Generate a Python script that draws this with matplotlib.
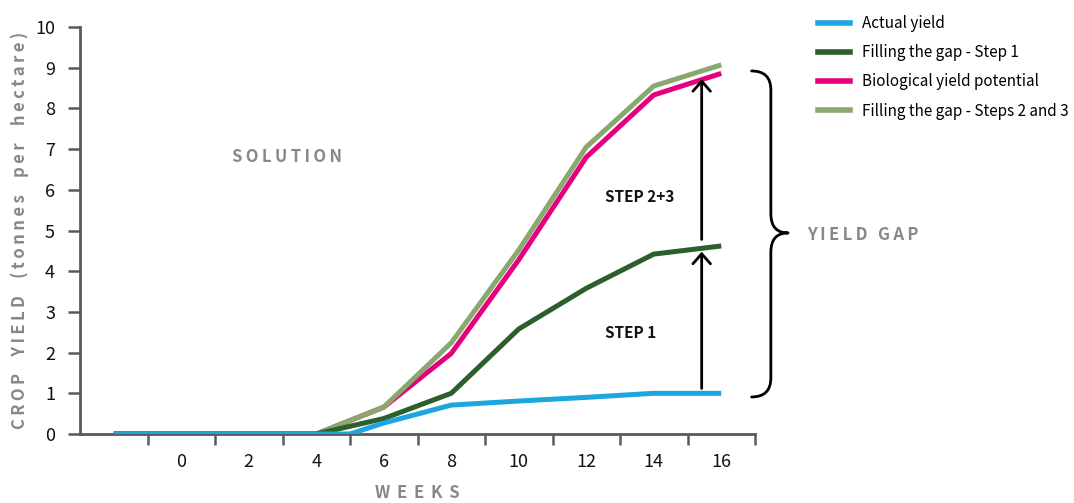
import matplotlib
matplotlib.use("Agg")
import matplotlib.pyplot as plt
from matplotlib.path import Path
from matplotlib.patches import PathPatch
from matplotlib.lines import Line2D

# ---- data ----
weeks = [-2, 0, 2, 4, 6, 8, 10, 12, 14, 16]
week_labels = ["0", "2", "4", "6", "8", "10", "12", "14", "16"]
label_weeks = [0, 2, 4, 6, 8, 10, 12, 14, 16]

actual_weeks = [-2, 0, 2, 4, 5, 6, 8, 10, 12, 14, 16]
actual_yield = [0, 0, 0, 0, 0, 0.27, 0.71, 0.81, 0.9, 1.0, 1.0]
step1 = [0, 0, 0, 0, 0.38, 1.0, 2.58, 3.58, 4.42, 4.62]
bio_potential = [0, 0, 0, 0, 0.66, 1.98, 4.28, 6.8, 8.33, 8.86]
steps23 = [0, 0, 0, 0, 0.66, 2.24, 4.52, 7.05, 8.55, 9.07]

series_names = ["Actual yield", "Filling the gap - Step 1",
                "Biological yield potential", "Filling the gap - Steps 2 and 3"]
colors = ["#1ba6df", "#2b5f2b", "#e6007e", "#88a870"]

GRAY = "#88888b"
AXC = "#5a5a5a"
FONT = ["Noto Sans CJK SC", "DejaVu Sans"]
TS = "\u2009"

def spaced(s, n=1, word_extra=0):
    words = s.split(" ")
    sep = TS * (1 + word_extra) + " " + TS * (1 + word_extra)
    return sep.join((TS * n).join(w) for w in words)

fig = plt.figure(figsize=(10.74, 5.03), dpi=100)
ax = fig.add_axes([80/1074, 1-434/503, (755-80)/1074, (434-27)/503])

lw = 3.6
ax.plot(weeks, bio_potential, color=colors[2], lw=lw, zorder=2, solid_capstyle="butt")
ax.plot(weeks, steps23, color=colors[3], lw=lw, zorder=3, solid_capstyle="butt")
ax.plot(weeks, step1, color=colors[1], lw=lw, zorder=4, solid_capstyle="butt")
ax.plot(actual_weeks, actual_yield, color=colors[0], lw=lw, zorder=5, solid_capstyle="butt")

ax.set_xlim(-3, 17)
ax.set_ylim(0, 10)

for s in ["top", "right"]:
    ax.spines[s].set_visible(False)
for s in ["left", "bottom"]:
    ax.spines[s].set_color(AXC)
    ax.spines[s].set_linewidth(2)

ax.set_xticks([w + 1 for w in weeks])
ax.set_xticklabels([])
ax.set_xticks(label_weeks, minor=True)
ax.set_xticklabels(week_labels, minor=True, fontsize=13, family=FONT, color="#111111")
ax.tick_params(axis="x", which="major", length=8, width=1.8, color=AXC, direction="out")
ax.tick_params(axis="x", which="minor", length=0, pad=14)

ax.set_yticks(range(0, 11))
ax.set_yticklabels([str(v) for v in range(0, 11)], fontsize=13, family=FONT, color="#111111")
ax.tick_params(axis="y", length=9, width=1.8, color=AXC, direction="out", pad=9)

# arrows
ARROW_X = 15.42
arrow_spans = [(1.12, 4.48), (4.78, 8.72)]
for y0, y1 in arrow_spans:
    ax.annotate("", xy=(ARROW_X, y1), xytext=(ARROW_X, y0),
                arrowprops=dict(arrowstyle="->,head_length=0.4,head_width=0.35",
                                mutation_scale=18, lw=2, color="black",
                                shrinkA=0, shrinkB=0), zorder=6)

# brace
BR_LO, BR_HI, BR_MID = 0.91, 8.92, 4.94
bx0, bx1, btip = 16.9, 17.47, 17.98
r = 0.47
verts = [(bx0, BR_HI), (bx1, BR_HI), (bx1, BR_HI - r),
         (bx1, BR_MID + r), (bx1, BR_MID), (btip, BR_MID),
         (bx1, BR_MID), (bx1, BR_MID - r),
         (bx1, BR_LO + r), (bx1, BR_LO), (bx0, BR_LO)]
codes = [Path.MOVETO, Path.CURVE3, Path.CURVE3,
         Path.LINETO, Path.CURVE3, Path.CURVE3,
         Path.CURVE3, Path.CURVE3,
         Path.LINETO, Path.CURVE3, Path.CURVE3]
ax.add_patch(PathPatch(Path(verts, codes), fill=False, lw=2, color="black",
                       clip_on=False, capstyle="round", joinstyle="round"))

# annotations
ax.text(3.13, 6.8, spaced("SOLUTION"), family=FONT, fontweight="bold", fontsize=12,
        color=GRAY, ha="center", va="center")
ax.text(12.55, 5.82, "STEP 2+3", family=FONT, fontweight="bold", fontsize=11,
        color="#111111", ha="left", va="center")
ax.text(12.55, 2.48, "STEP 1", family=FONT, fontweight="bold", fontsize=11,
        color="#111111", ha="left", va="center")
fig.text(863/1074, 1-235/503, spaced("YIELD GAP"), family=FONT, fontweight="bold",
         fontsize=12, color=GRAY, ha="center", va="center")
fig.text(20/1074, 1-230/503, spaced("CROP YIELD (tonnes per hectare)", word_extra=1),
         family=FONT, fontweight="bold", fontsize=12, color=GRAY,
         ha="center", va="center", rotation=90)
fig.text(417/1074, 1-493/503, spaced("WEEKS", 2), family=FONT, fontweight="bold",
         fontsize=12, color=GRAY, ha="center", va="center")

# legend
handles = [Line2D([], [], color=c, lw=4) for c in colors]
fig.legend(handles, series_names, loc="upper left", bbox_to_anchor=(818/1074, 1-15/503),
           frameon=False, prop={"family": FONT, "size": 11},
           handlelength=2.1, handletextpad=0.75, labelspacing=0.8,
           borderpad=0, borderaxespad=0)

fig.savefig("out.png", dpi=100)
